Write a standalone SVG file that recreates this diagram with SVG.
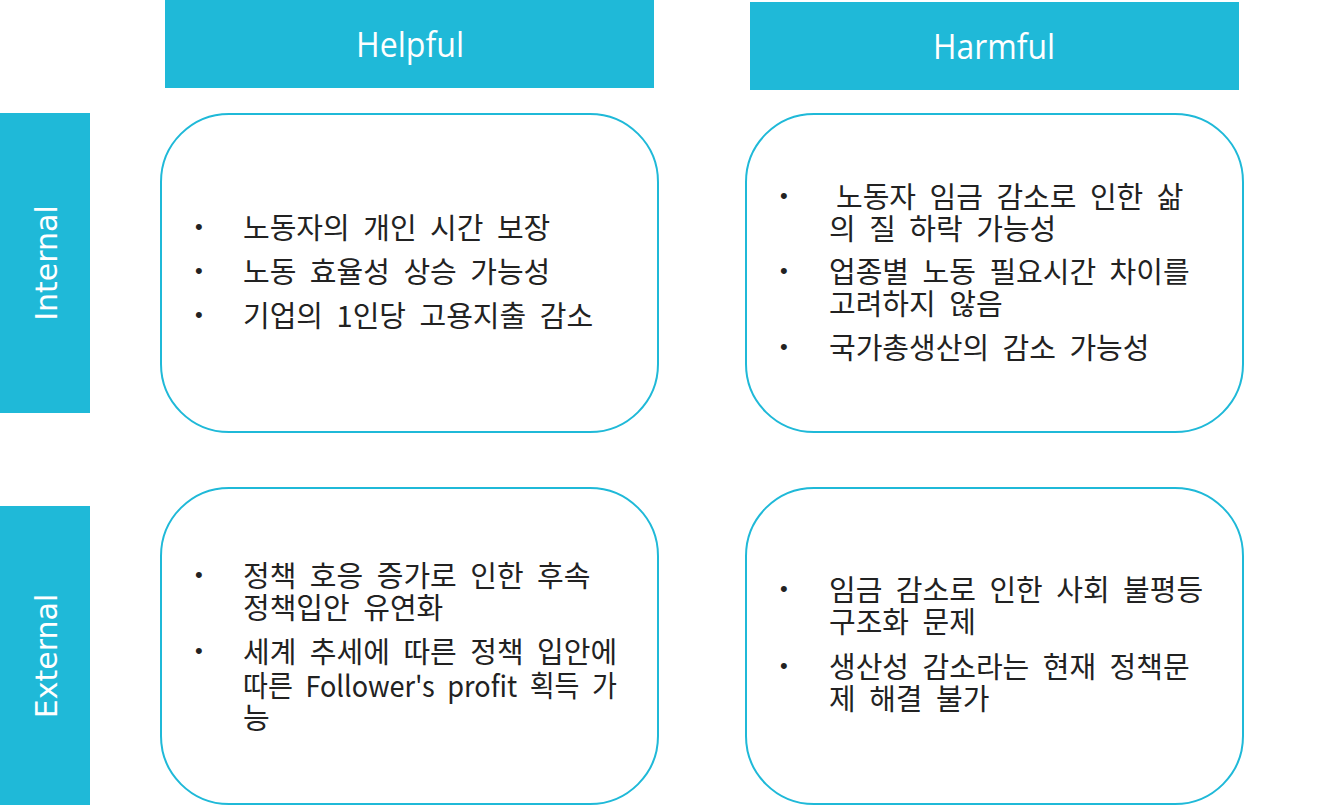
<svg xmlns="http://www.w3.org/2000/svg" width="1333" height="805" viewBox="0 0 1333 805">
<style>
.hdr{fill:#1fb9d8}
.box{fill:#fff;stroke:#1fb9d8;stroke-width:2}
.ht{font-family:"Open Sans","Noto Sans",sans-serif;font-size:34px;fill:#fff;text-anchor:middle;dominant-baseline:central}
.st{font-family:"DejaVu Sans","Noto Sans",sans-serif;font-size:30px;fill:#fff;text-anchor:middle;dominant-baseline:central}
.t{font-family:"Noto Sans CJK KR","Roboto",sans-serif;font-size:29px;word-spacing:7px;fill:#222;dominant-baseline:central}
.b{font-family:"Liberation Sans",sans-serif;font-size:22px;fill:#222;dominant-baseline:central}
</style>
<rect width="1333" height="805" fill="#fff"/>
<g id="helpful"><rect class="hdr" x="165" y="0" width="489" height="88"/><text class="ht" x="410" y="44" textLength="108" lengthAdjust="spacingAndGlyphs">Helpful</text></g>
<g id="harmful"><rect class="hdr" x="750" y="2" width="489" height="88"/><text class="ht" x="994" y="46" textLength="122" lengthAdjust="spacingAndGlyphs">Harmful</text></g>
<g id="internal"><rect class="hdr" x="0" y="113" width="90" height="300"/><text class="st" transform="translate(46 263) rotate(-90)">Internal</text></g>
<g id="external"><rect class="hdr" x="0" y="506" width="90" height="299"/><text class="st" transform="translate(46 656) rotate(-90)">External</text></g>
<g id="box-ih">
<rect class="box" x="161" y="114" width="497" height="318" rx="68" ry="68"/>
<text class="b" x="195" y="226">•</text><text class="t" x="243" y="226">노동자의 개인 시간 보장</text>
<text class="b" x="195" y="270">•</text><text class="t" x="243" y="270">노동 효율성 상승 가능성</text>
<text class="b" x="195" y="314">•</text><text class="t" x="243" y="314">기업의 1인당 고용지출 감소</text>
</g>
<g id="box-ix">
<rect class="box" x="746" y="114" width="497" height="318" rx="68" ry="68"/>
<text class="b" x="780" y="195">•</text><text class="t" x="836" y="195">노동자 임금 감소로 인한 삶</text>
<text class="t" x="829" y="227">의 질 하락 가능성</text>
<text class="b" x="780" y="270">•</text><text class="t" x="829" y="270">업종별 노동 필요시간 차이를</text>
<text class="t" x="829" y="302">고려하지 않음</text>
<text class="b" x="780" y="346">•</text><text class="t" x="829" y="346">국가총생산의 감소 가능성</text>
</g>
<g id="box-eh">
<rect class="box" x="161" y="488" width="497" height="316" rx="68" ry="68"/>
<text class="b" x="195" y="574">•</text><text class="t" x="243" y="574">정책 호응 증가로 인한 후속</text>
<text class="t" x="243" y="606">정책입안 유연화</text>
<text class="b" x="195" y="650">•</text><text class="t" x="243" y="650">세계 추세에 따른 정책 입안에</text>
<text class="t" x="243" y="684" textLength="374" lengthAdjust="spacingAndGlyphs">따른 Follower's profit 획득 가</text>
<text class="t" x="243" y="716">능</text>
</g>
<g id="box-ex">
<rect class="box" x="746" y="488" width="497" height="316" rx="68" ry="68"/>
<text class="b" x="780" y="588">•</text><text class="t" x="829" y="588">임금 감소로 인한 사회 불평등</text>
<text class="t" x="829" y="620">구조화 문제</text>
<text class="b" x="780" y="665">•</text><text class="t" x="829" y="665">생산성 감소라는 현재 정책문</text>
<text class="t" x="829" y="697">제 해결 불가</text>
</g>
<g id="connectors"/>
</svg>
